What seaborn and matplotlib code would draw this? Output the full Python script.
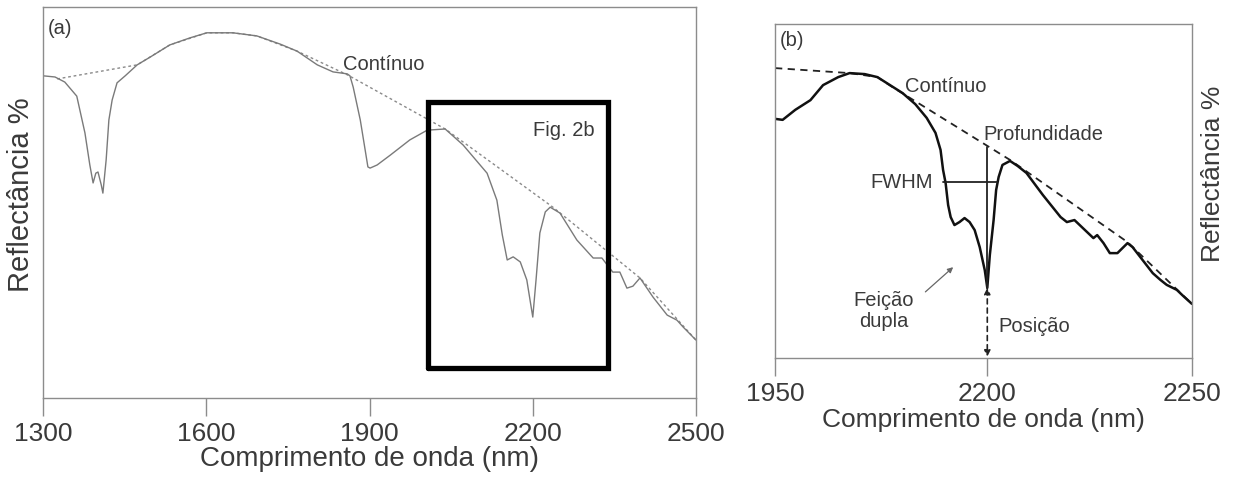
import numpy as np
import pandas as pd
import matplotlib
matplotlib.use("Agg")
import matplotlib.pyplot as plt
import seaborn as sns

# ---------------- data: panel (a) ----------------
wl_a = [1300, 1322, 1340, 1362, 1377, 1386, 1392, 1397, 1401, 1407, 1410, 1416, 1421,
        1427, 1436, 1451, 1473, 1497, 1533, 1570, 1601, 1649, 1693, 1736, 1767, 1785,
        1804, 1833, 1859, 1864, 1870, 1883, 1892, 1897, 1901, 1914, 1938, 1974, 2006,
        2039, 2072, 2116, 2134, 2144, 2153, 2164, 2177, 2189, 2200, 2206, 2213, 2223,
        2232, 2250, 2281, 2311, 2327, 2347, 2360, 2373, 2384, 2397, 2421, 2447, 2465,
        2476, 2500]
refl_a = [82.4, 82.1, 80.8, 77.2, 67.8, 59.6, 55.0, 57.5, 57.8, 54.5, 52.4, 60.9, 71.1,
          76.2, 80.6, 82.4, 85.2, 87.2, 90.3, 92.1, 93.4, 93.4, 92.6, 90.5, 88.7, 87.0,
          85.2, 83.4, 82.9, 82.4, 79.5, 71.1, 63.4, 59.1, 58.8, 59.6, 62.1, 66.0, 68.5,
          68.8, 64.7, 57.5, 50.6, 41.7, 35.3, 36.1, 34.8, 30.2, 20.7, 30.2, 42.2, 47.6,
          48.8, 47.3, 40.4, 35.8, 35.8, 32.2, 32.2, 28.1, 28.6, 30.7, 25.8, 21.2, 19.9,
          18.2, 14.8]
cont_wl_a = [1326, 1473, 1533, 1601, 1649, 1693, 1767, 1860, 2039, 2237, 2397, 2500]
cont_refl_a = [81.6, 85.2, 90.3, 93.4, 93.4, 92.6, 88.7, 82.6, 68.8, 48.8, 30.7, 14.8]
ticks_a = [1300, 1600, 1900, 2200, 2500]
zoom_box_wl = [2007, 2338]
zoom_box_refl = [7.8, 75.6]

# ---------------- data: panel (b) ----------------
wl_b = [2008, 2014, 2024, 2036, 2046, 2058, 2067, 2079, 2089, 2099, 2109, 2119, 2128,
        2135, 2139, 2141, 2143, 2145, 2147, 2150, 2154, 2158, 2162, 2166, 2170, 2174,
        2176, 2178, 2181, 2183, 2185, 2188, 2194, 2200, 2207, 2220, 2234, 2239, 2245,
        2250, 2255, 2260, 2263, 2268, 2273, 2279, 2287, 2291, 2299, 2307, 2313, 2318,
        2326, 2331, 2338]
refl_b = [71.6, 71.3, 74.3, 77.2, 81.7, 84.1, 85.3, 85.0, 84.1, 81.7, 79.3, 76.0, 71.9,
          67.4, 62.3, 56.3, 52.4, 45.8, 42.2, 39.8, 40.7, 41.9, 40.7, 38.3, 33.2, 26.3,
          21.0, 30.8, 41.3, 50.3, 54.2, 57.8, 59.0, 57.5, 55.4, 48.8, 42.2, 40.7, 41.3,
          39.5, 37.7, 35.9, 36.8, 34.4, 31.4, 31.4, 34.4, 33.2, 29.3, 25.4, 23.4, 21.9,
          20.4, 18.6, 16.2]
cont_wl_b = [2008, 2067, 2089, 2101, 2194, 2287, 2338]
cont_refl_b = [86.8, 85.3, 84.1, 81.1, 59.3, 34.7, 16.2]
tick_pos_b = [2008, 2176, 2338]
tick_labels_b = ["1950", "2200", "2250"]
fwhm_wl = [2141, 2184]
fwhm_refl = 52.7
band_center = 2176
depth_top = 63.2
band_min = 21.0

# ---------------- style ----------------
sns.set_theme(style="white")
plt.rcParams["font.family"] = ["Liberation Sans", "DejaVu Sans"]
TXT = "#3a3a3a"
SPINE = "#8c8c8c"

fig = plt.figure(figsize=(12.33, 4.79), dpi=100)
ax_a = fig.add_axes([0.0349, 0.1691, 0.5296, 0.8163])
ax_b = fig.add_axes([0.6286, 0.2526, 0.3381, 0.6973])

df_a = pd.DataFrame({"wl": wl_a, "r": refl_a})
df_ca = pd.DataFrame({"wl": cont_wl_a, "r": cont_refl_a})
df_b = pd.DataFrame({"wl": wl_b, "r": refl_b})
df_cb = pd.DataFrame({"wl": cont_wl_b, "r": cont_refl_b})

# ---- panel a ----
sns.lineplot(data=df_ca, x="wl", y="r", ax=ax_a, color="#8a8a8a", lw=1.0,
             linestyle=(0, (2, 2)), sort=False, estimator=None)
sns.lineplot(data=df_a, x="wl", y="r", ax=ax_a, color="#7a7a7a", lw=1.0,
             sort=False, estimator=None)
ax_a.plot([zoom_box_wl[0], zoom_box_wl[1], zoom_box_wl[1], zoom_box_wl[0], zoom_box_wl[0]],
          [zoom_box_refl[0], zoom_box_refl[0], zoom_box_refl[1], zoom_box_refl[1], zoom_box_refl[0]],
          color="black", lw=3.8, solid_joinstyle="miter")
ax_a.set_xlim(1300, 2500)
ax_a.set_ylim(0, 100)
ax_a.set_xticks(ticks_a)
ax_a.set_xticklabels([str(t) for t in ticks_a])
ax_a.set_yticks([])
ax_a.set_xlabel("Comprimento de onda (nm)", fontsize=20, color=TXT, labelpad=0)
ax_a.set_ylabel("Reflectância %", fontsize=21, color=TXT)
ax_a.yaxis.set_label_coords(-0.012, 0.52)
ax_a.text(1309, 94.6, "(a)", fontsize=14.5, color=TXT, ha="left", va="center")
ax_a.text(1851, 85.2, "Contínuo", fontsize=14.5, color=TXT, ha="left", va="center")
ax_a.text(2314, 68.5, "Fig. 2b", fontsize=14.5, color=TXT, ha="right", va="center")

# ---- panel b ----
sns.lineplot(data=df_cb, x="wl", y="r", ax=ax_b, color="#222222", lw=1.3,
             linestyle=(0, (4, 3)), sort=False, estimator=None)
sns.lineplot(data=df_b, x="wl", y="r", ax=ax_b, color="#111111", lw=1.8,
             sort=False, estimator=None)
ax_b.plot(fwhm_wl, [fwhm_refl, fwhm_refl], color="#222222", lw=1.3)
ax_b.plot([band_center, band_center], [band_min, depth_top], color="#222222", lw=1.3)
ax_b.annotate("", xy=(band_center, 0.4), xytext=(band_center, band_min),
              arrowprops=dict(arrowstyle="<|-|>", color="#222222", lw=1.2,
                              linestyle=(0, (3, 2.5)), mutation_scale=9,
                              shrinkA=0, shrinkB=0))
ax_b.annotate("", xy=(2149, 27.2), xytext=(2127, 19.8),
              arrowprops=dict(arrowstyle="-|>", color="#666666", lw=0.9,
                              mutation_scale=8, shrinkA=0, shrinkB=0))
ax_b.set_xlim(2008, 2338)
ax_b.set_ylim(0, 100)
ax_b.set_xticks(tick_pos_b)
ax_b.set_xticklabels(tick_labels_b)
ax_b.set_yticks([])
ax_b.set_xlabel("Comprimento de onda (nm)", fontsize=19, color=TXT, labelpad=2)
ax_b.yaxis.set_label_position("right")
ax_b.set_ylabel("Reflectância %", fontsize=19, color=TXT)
ax_b.yaxis.set_label_coords(1.022, 0.55)
ax_b.text(2012, 95.2, "(b)", fontsize=14.5, color=TXT, ha="left", va="center")
ax_b.text(2111, 81.4, "Contínuo", fontsize=14.5, color=TXT, ha="left", va="center")
ax_b.text(2172.6, 66.8, "Profundidade", fontsize=14.5, color=TXT, ha="left", va="center")
ax_b.text(2133, 52.4, "FWHM", fontsize=14.5, color=TXT, ha="right", va="center")
ax_b.text(2094, 14.1, "Feição\ndupla", fontsize=14.5, color=TXT, ha="center",
          va="center", linespacing=1.1)
ax_b.text(2184.5, 9.3, "Posição", fontsize=14.5, color=TXT, ha="left", va="center")

for ax in (ax_a, ax_b):
    for s in ax.spines.values():
        s.set_visible(True)
        s.set_color(SPINE)
        s.set_linewidth(1.0)
    ax.tick_params(axis="x", direction="out", length=13, width=1.0, color=SPINE,
                   labelsize=19, labelcolor=TXT, pad=4, bottom=True)
    ax.set_facecolor("white")

fig.savefig("out.png", dpi=100, facecolor="white")
